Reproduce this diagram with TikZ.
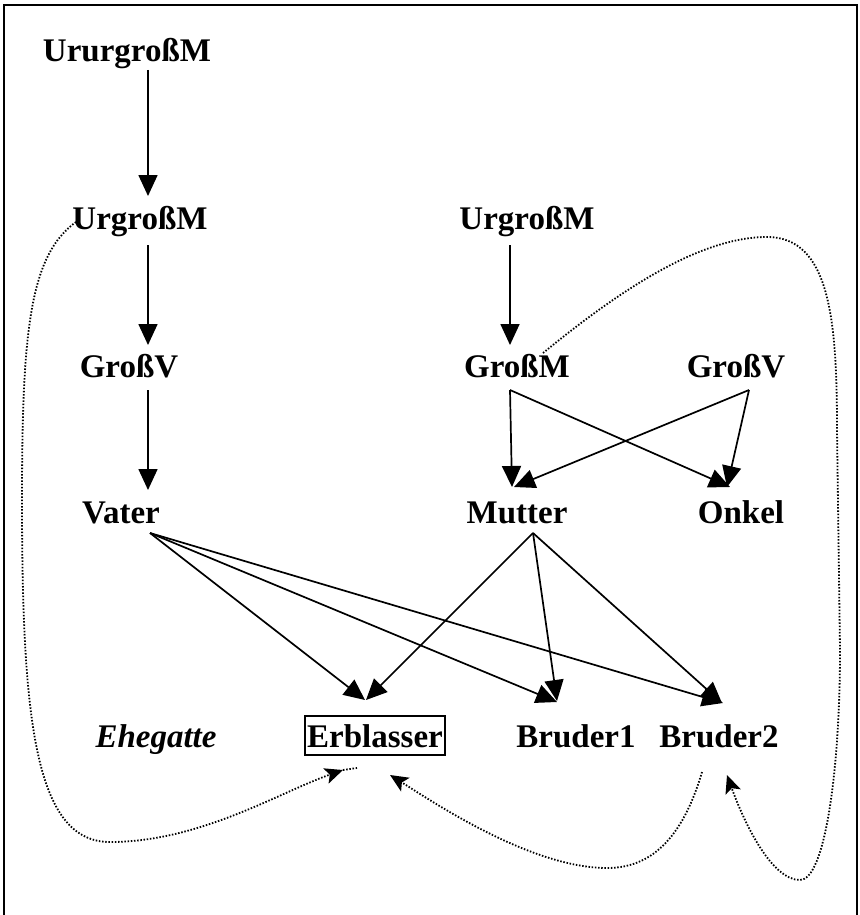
\documentclass[tikz,border=0pt]{standalone}
\usepackage{fontspec}
\setmainfont{Liberation Serif}
\usetikzlibrary{arrows.meta,calc}
\tikzset{
  lbl/.style={anchor=base,inner sep=0pt,font=\fontsize{33}{39}\selectfont\bfseries},
  boxlbl/.style={lbl,draw,line width=1.8pt,inner xsep=2pt,inner ysep=8pt},
  arr/.style={line width=1.7pt,-{Triangle[length=21pt,width=19pt]}},
  dotarr/.style={line width=1.8pt,dash pattern=on 1.5pt off 1.7pt,-{Stealth[length=18pt,width=16pt,inset=4pt]}},
  dotline/.style={line width=1.8pt,dash pattern=on 1.5pt off 1.7pt},
  frame/.style={line width=2pt}
}
\begin{document}
\begin{tikzpicture}[x=1pt,y=-1pt]
\useasboundingbox (0,0) rectangle (859,915);
\draw[frame] (4,915) -- (4,5) -- (857,5) -- (857,915);
% nodes
\node[lbl] (urur) at (127,62) {UrurgroßM};
\node[lbl] (ug1) at (140,229) {UrgroßM};
\node[lbl] (gv1) at (129,377) {GroßV};
\node[lbl] (vat) at (121,523) {Vater};
\node[lbl] (ug2) at (527,229) {UrgroßM};
\node[lbl] (gm) at (517,377) {GroßM};
\node[lbl] (gv2) at (736,377) {GroßV};
\node[lbl] (mut) at (517,523) {Mutter};
\node[lbl] (onk) at (741,523) {Onkel};
\node[lbl,font=\fontsize{33}{39}\selectfont\bfseries\itshape] (ehe) at (156,747) {Ehegatte};
\node[boxlbl] (erb) at (375,747) {Erblasser};
\node[lbl] (b1) at (576,747) {Bruder1};
\node[lbl] (b2) at (719,747) {Bruder2};
% solid arrows
\draw[arr] ($(urur.base)+(21,8)$) -- ($(ug1.base)+(8,-33)$);
\draw[arr] ($(ug1.base)+(8,16)$) -- ($(gv1.base)+(19,-32)$);
\draw[arr] ($(gv1.base)+(19,13)$) -- ($(vat.base)+(27,-33)$);
\draw[arr] ($(ug2.base)+(-17,16)$) -- ($(gm.base)+(-7,-32)$);
\draw[arr] ($(gm.base)+(-7,13)$) -- ($(mut.base)+(-5,-36)$);
\draw[arr] ($(gm.base)+(-7,13)$) -- ($(onk.base)+(-11,-36)$);
\draw[arr] ($(gv2.base)+(13,13)$) -- ($(mut.base)+(-3,-36)$);
\draw[arr] ($(gv2.base)+(13,13)$) -- ($(onk.base)+(-14,-36)$);
\draw[arr] ($(vat.base)+(29,10)$) -- ($(erb.base)+(-10,-47)$);
\draw[arr] ($(vat.base)+(29,10)$) -- ($(b1.base)+(-19,-45)$);
\draw[arr] ($(vat.base)+(29,10)$) -- ($(b2.base)+(4,-44)$);
\draw[arr] ($(mut.base)+(16,10)$) -- ($(erb.base)+(-9,-47)$);
\draw[arr] ($(mut.base)+(16,10)$) -- ($(b1.base)+(-19,-46)$);
\draw[arr] ($(mut.base)+(16,10)$) -- ($(b2.base)+(3,-44)$);
% dotted curves
\draw[dotarr] ($(ug1.base)+(-64,-7)$) .. controls (30,255) and (22,330) .. (22,500)
  .. controls (22,720) and (35,842) .. (110,842)
  .. controls (200,842) and (280,792) .. ($(erb.base)+(-32,23)$);
\draw[dotline] ($(erb.base)+(-32,23)$) -- ($(erb.base)+(-18,21)$);
\draw[dotarr] ($(gm.base)+(26,-24)$) .. controls (620,290) and (700,237) .. (767,237)
  .. controls (830,237) and (837,320) .. (837,430)
  -- (840,650) .. controls (840,770) and (825,880) .. (800,880)
  .. controls (772,880) and (745,825) .. ($(b2.base)+(8,28)$);
\draw[dotarr] ($(b2.base)+(-17,25)$) .. controls (682,840) and (650,868) .. (607,868)
  .. controls (530,868) and (430,800) .. ($(erb.base)+(15,28)$);
\end{tikzpicture}
\end{document}
